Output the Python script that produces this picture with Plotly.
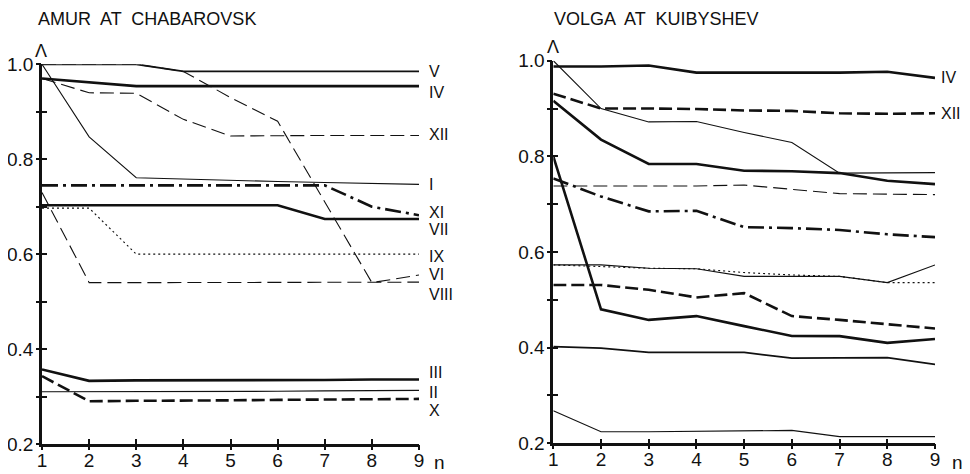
import plotly.graph_objects as go

n = [1, 2, 3, 4, 5, 6, 7, 8, 9]

# ---- Amur at Chabarovsk ----
amur_V    = [1.0, 1.0, 1.0, 0.985, 0.985, 0.985, 0.985, 0.985, 0.985]
amur_VI   = [1.0, 1.0, 1.0, 0.985, 0.93, 0.88, 0.71, 0.54, 0.556]
amur_IV   = [0.97, 0.962, 0.954, 0.954, 0.954, 0.954, 0.954, 0.954, 0.954]
amur_XII  = [0.97, 0.94, 0.939, 0.884, 0.849, 0.85, 0.85, 0.85, 0.85]
amur_I    = [1.0, 0.847, 0.761, 0.758, 0.755, 0.753, 0.751, 0.749, 0.747]
amur_XI   = [0.745, 0.745, 0.745, 0.745, 0.745, 0.745, 0.745, 0.70, 0.682]
amur_VII  = [0.703, 0.703, 0.703, 0.703, 0.703, 0.703, 0.674, 0.674, 0.674]
amur_IX   = [0.697, 0.697, 0.60, 0.60, 0.60, 0.60, 0.60, 0.60, 0.60]
amur_VIII = [0.73, 0.54, 0.54, 0.54, 0.54, 0.54, 0.54, 0.54, 0.541]
amur_III  = [0.357, 0.333, 0.334, 0.334, 0.335, 0.335, 0.335, 0.336, 0.336]
amur_II   = [0.31, 0.31, 0.31, 0.31, 0.31, 0.311, 0.312, 0.312, 0.313]
amur_X    = [0.343, 0.29, 0.291, 0.291, 0.292, 0.293, 0.294, 0.294, 0.295]

amur_labels  = ["V", "IV", "XII", "I", "XI", "VII", "IX", "VI", "VIII", "III", "II", "X"]
amur_label_y = [0.985, 0.941, 0.853, 0.747, 0.688, 0.651, 0.596, 0.558, 0.514, 0.351, 0.309, 0.270]

# ---- Volga at Kuibyshev ----
volga_IV  = [0.988, 0.988, 0.99, 0.975, 0.975, 0.975, 0.975, 0.977, 0.964]
volga_a   = [1.0, 0.90, 0.872, 0.873, 0.85, 0.829, 0.765, 0.765, 0.766]
volga_XII = [0.931, 0.90, 0.90, 0.899, 0.896, 0.895, 0.89, 0.889, 0.89]
volga_b   = [0.916, 0.835, 0.784, 0.784, 0.77, 0.769, 0.765, 0.749, 0.742]
volga_c   = [0.738, 0.738, 0.738, 0.738, 0.74, 0.731, 0.722, 0.721, 0.72]
volga_d   = [0.754, 0.716, 0.685, 0.686, 0.652, 0.65, 0.646, 0.637, 0.631]
volga_e   = [0.80, 0.48, 0.458, 0.466, 0.445, 0.4245, 0.424, 0.41, 0.418]
volga_f   = [0.573, 0.573, 0.566, 0.565, 0.549, 0.549, 0.549, 0.536, 0.573]
volga_g   = [0.573, 0.57, 0.566, 0.565, 0.557, 0.552, 0.549, 0.536, 0.536]
volga_h   = [0.531, 0.531, 0.521, 0.505, 0.514, 0.466, 0.458, 0.449, 0.44]
volga_i   = [0.402, 0.399, 0.39, 0.39, 0.39, 0.378, 0.378, 0.379, 0.365]
volga_j   = [0.268, 0.224, 0.224, 0.225, 0.226, 0.227, 0.214, 0.214, 0.214]

volga_labels  = ["IV", "XII"]
volga_label_y = [0.964, 0.889]

y_tickvals = [0.2, 0.3, 0.4, 0.5, 0.6, 0.7, 0.8, 0.9, 1.0]
y_ticktext = ["0.2", "", "0.4", "", "0.6", "", "0.8", "", "1.0"]
x_tickvals = n
x_ticktext = ["1", "2", "3", "4", "5", "6", "7", "8", "9"]

titles = ["AMUR  AT  CHABAROVSK", "VOLGA  AT  KUIBYSHEV"]

THICK, MED, THIN = 2.6, 1.8, 1.1
DASH = "14px,6px"
DASH_T = "13px,5px"
DASHDOT = "16px,5px,3px,5px"
DOT = "2px,3px"

FONT = "Liberation Sans, Arial, Helvetica, sans-serif"
INK = "#111111"

fig = go.Figure()

def add(y, xa, ya, width, dash="solid"):
    fig.add_trace(go.Scatter(
        x=n, y=y, xaxis=xa, yaxis=ya, mode="lines",
        line=dict(color=INK, width=width, dash=dash),
        showlegend=False, hoverinfo="skip"))

# Left panel
add(amur_VI, "x", "y", THIN, DASH)
add(amur_V, "x", "y", MED)
add(amur_IV, "x", "y", THICK)
add(amur_XII, "x", "y", THIN, DASH)
add(amur_I, "x", "y", THIN)
add(amur_XI, "x", "y", THICK, DASHDOT)
add(amur_VII, "x", "y", THICK)
add(amur_IX, "x", "y", THIN, DOT)
add(amur_VIII, "x", "y", THIN, DASH)
add(amur_III, "x", "y", THICK)
add(amur_II, "x", "y", THIN)
add(amur_X, "x", "y", THICK, DASH_T)

# Right panel
add(volga_IV, "x2", "y2", THICK)
add(volga_a, "x2", "y2", THIN)
add(volga_XII, "x2", "y2", THICK, DASH_T)
add(volga_b, "x2", "y2", THICK)
add(volga_c, "x2", "y2", THIN, DASH)
add(volga_d, "x2", "y2", THICK, DASHDOT)
add(volga_e, "x2", "y2", THICK)
add(volga_f, "x2", "y2", THIN)
add(volga_g, "x2", "y2", THIN, DOT)
add(volga_h, "x2", "y2", THICK, DASH_T)
add(volga_i, "x2", "y2", MED)
add(volga_j, "x2", "y2", THIN)

# invisible traces for the overlay axes (outer tick halves)
for xa, ya in [("x3", "y3"), ("x4", "y4")]:
    fig.add_trace(go.Scatter(x=[1, 9], y=[0.2, 1.0], xaxis=xa, yaxis=ya, mode="lines",
                             line=dict(color="rgba(0,0,0,0)", width=0),
                             showlegend=False, hoverinfo="skip"))

W, H = 970, 474
OFF = 8  # page body margin of the written html

def px_x(p):
    return (p - OFF) / W

def px_y(p):
    return 1 - (p - OFF) / H

left_x = [px_x(42), px_x(419)]
right_x = [px_x(553.3), px_x(935)]
left_y = [px_y(444), px_y(64.3)]
right_y = [px_y(443.3), px_y(60.7)]

tickfont = dict(family=FONT, size=19, color=INK)

# pull the x tick labels a little closer to the axis if allowed
X_STANDOFF = -3
try:
    go.layout.XAxis(ticklabelstandoff=X_STANDOFF)
except Exception:
    X_STANDOFF = 0

def main_x(dom, anchor):
    return dict(domain=dom, anchor=anchor, range=[1, 9], showgrid=False, zeroline=False,
                automargin=False, showline=True, linecolor=INK, linewidth=2.6,
                tickvals=x_tickvals, ticktext=x_ticktext, ticks="inside",
                ticklen=5, tickwidth=2, tickcolor=INK, tickfont=tickfont,
                ticklabelstandoff=X_STANDOFF)

def main_y(dom, anchor):
    return dict(domain=dom, anchor=anchor, range=[0.2, 1.0], showgrid=False, zeroline=False,
                automargin=False, showline=True, linecolor=INK, linewidth=2.6,
                tickvals=y_tickvals, ticktext=y_ticktext, ticks="inside",
                ticklen=5, tickwidth=2, tickcolor=INK, tickfont=tickfont,
                ticklabelstandoff=2)

def over_x(over, anchor):
    return dict(overlaying=over, anchor=anchor, range=[1, 9], showgrid=False, zeroline=False,
                automargin=False, showline=False, tickvals=x_tickvals, showticklabels=False,
                ticks="outside", ticklen=5, tickwidth=2, tickcolor=INK)

def over_y(over, anchor):
    return dict(overlaying=over, anchor=anchor, range=[0.2, 1.0], showgrid=False, zeroline=False,
                automargin=False, showline=False, tickvals=y_tickvals, showticklabels=False,
                ticks="outside", ticklen=5, tickwidth=2, tickcolor=INK)

annotations = []
# titles (anchored to the very top so they are not clipped)
annotations.append(dict(text=titles[0], xref="paper", yref="paper", x=px_x(37), y=1.0,
                        xanchor="left", yanchor="top", showarrow=False, borderpad=0,
                        font=dict(family=FONT, size=18, color=INK)))
annotations.append(dict(text=titles[1], xref="paper", yref="paper", x=px_x(553), y=1.0,
                        xanchor="left", yanchor="top", showarrow=False, borderpad=0,
                        font=dict(family=FONT, size=18, color=INK)))
# Lambda symbols
annotations.append(dict(text="Λ", xref="paper", yref="paper", x=px_x(41), y=px_y(51),
                        xanchor="center", yanchor="middle", showarrow=False,
                        font=dict(family=FONT, size=18, color=INK)))
annotations.append(dict(text="Λ", xref="paper", yref="paper", x=px_x(553), y=px_y(47),
                        xanchor="center", yanchor="middle", showarrow=False,
                        font=dict(family=FONT, size=18, color=INK)))
# n axis labels
annotations.append(dict(text="n", xref="paper", yref="paper", x=px_x(439), y=px_y(462),
                        xanchor="center", yanchor="middle", showarrow=False,
                        font=dict(family=FONT, size=19, color=INK)))
annotations.append(dict(text="n", xref="paper", yref="paper", x=px_x(957), y=px_y(462),
                        xanchor="center", yanchor="middle", showarrow=False,
                        font=dict(family=FONT, size=19, color=INK)))
# series labels
for lab, yy in zip(amur_labels, amur_label_y):
    annotations.append(dict(text=lab, xref="x", yref="y", x=9, y=yy, xshift=9,
                            xanchor="left", yanchor="middle", showarrow=False,
                            borderpad=0, font=dict(family=FONT, size=16, color=INK)))
for lab, yy in zip(volga_labels, volga_label_y):
    annotations.append(dict(text=lab, xref="x2", yref="y2", x=9, y=yy, xshift=5,
                            xanchor="left", yanchor="middle", showarrow=False,
                            borderpad=0, font=dict(family=FONT, size=16, color=INK)))

fig.update_layout(
    template="none",
    width=W, height=H,
    margin=dict(l=0, r=0, t=0, b=0, pad=0, autoexpand=False),
    paper_bgcolor="white", plot_bgcolor="white",
    xaxis=main_x(left_x, "y"),
    yaxis=main_y(left_y, "x"),
    xaxis2=main_x(right_x, "y2"),
    yaxis2=main_y(right_y, "x2"),
    xaxis3=over_x("x", "y"),
    yaxis3=over_y("y", "x"),
    xaxis4=over_x("x2", "y2"),
    yaxis4=over_y("y2", "x2"),
    annotations=annotations,
    showlegend=False,
)

fig.write_html("out.html")
